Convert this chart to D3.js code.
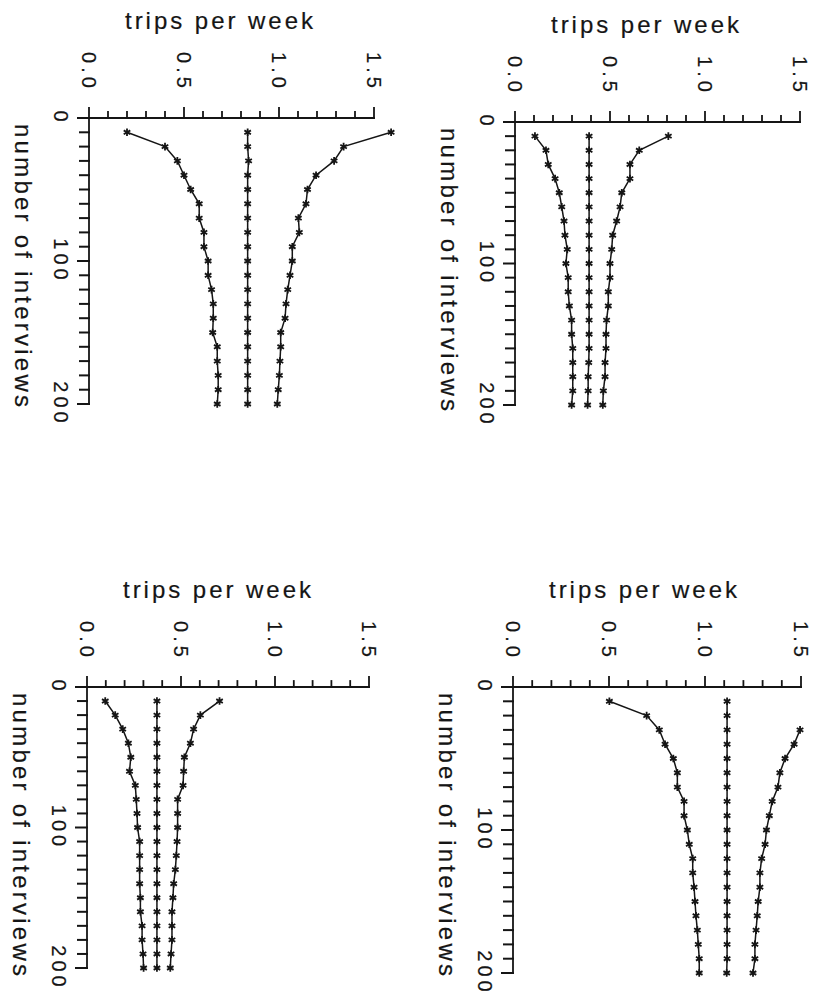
<!DOCTYPE html>
<html>
<head>
<meta charset="utf-8">
<title>trips per week</title>
<script src="https://d3js.org/d3.v7.min.js"></script>
<style>
  body { margin: 0; background: #fff; }
  svg text { font-family: "Liberation Sans", Arial, sans-serif; fill: #151515; stroke: #151515; stroke-width: 0.2; }
  .axis line { stroke: #151515; stroke-width: 1.8; stroke-linecap: square; }
  .axis line.yt { stroke-width: 2; }
  .tick-label { font-size: 20px; letter-spacing: 4px; }
  .title { font-size: 24px; }
  .series { fill: none; stroke: #151515; stroke-width: 1.5; }
  .mark { fill: none; stroke: #151515; stroke-width: 1.8; }
</style>
</head>
<body>
<svg width="823" height="1002"></svg>
<script>
// number of interviews at each plotted point
var interviews = [10, 20, 30, 40, 50, 60, 70, 80, 90, 100, 110, 120, 130, 140, 150, 160, 170, 180, 190, 200];
var tripTicks = [0, 0.5, 1.0, 1.5];
var interviewTicks = [0, 100, 200];

// top left
var tlLower = [0.20, 0.40, 0.465, 0.50, 0.535, 0.58, 0.58, 0.605, 0.605, 0.627, 0.627, 0.645, 0.654, 0.654, 0.651, 0.675, 0.675, 0.68, 0.68, 0.675];
var tlMid   = [0.835, 0.835, 0.84, 0.835, 0.835, 0.835, 0.835, 0.835, 0.835, 0.835, 0.835, 0.835, 0.835, 0.835, 0.835, 0.835, 0.835, 0.835, 0.835, 0.835];
var tlUpper = [1.59, 1.34, 1.29, 1.195, 1.15, 1.142, 1.102, 1.107, 1.07, 1.07, 1.058, 1.046, 1.037, 1.032, 1.009, 1.009, 1.005, 1.002, 0.996, 0.991];

// top right
var trLower = [0.105, 0.163, 0.175, 0.211, 0.233, 0.246, 0.258, 0.263, 0.275, 0.268, 0.28, 0.28, 0.286, 0.298, 0.298, 0.304, 0.304, 0.304, 0.304, 0.298];
var trMid   = [0.39, 0.39, 0.39, 0.39, 0.39, 0.39, 0.39, 0.39, 0.39, 0.39, 0.39, 0.39, 0.39, 0.39, 0.39, 0.39, 0.388, 0.385, 0.385, 0.382];
var trUpper = [0.807, 0.654, 0.605, 0.605, 0.562, 0.553, 0.535, 0.514, 0.509, 0.50, 0.50, 0.491, 0.491, 0.482, 0.479, 0.479, 0.474, 0.474, 0.465, 0.462];

// bottom left
var blLower = [0.097, 0.15, 0.19, 0.22, 0.233, 0.226, 0.257, 0.262, 0.266, 0.269, 0.28, 0.28, 0.28, 0.28, 0.284, 0.284, 0.293, 0.293, 0.298, 0.301];
var blMid   = [0.372, 0.372, 0.372, 0.372, 0.372, 0.372, 0.372, 0.372, 0.372, 0.372, 0.372, 0.372, 0.372, 0.372, 0.372, 0.372, 0.372, 0.372, 0.372, 0.372];
var blUpper = [0.705, 0.603, 0.567, 0.55, 0.518, 0.514, 0.511, 0.482, 0.482, 0.482, 0.479, 0.475, 0.47, 0.461, 0.457, 0.452, 0.452, 0.452, 0.447, 0.443];

// bottom right (first two upper values run off the scale)
var brLower = [0.502, 0.696, 0.762, 0.792, 0.835, 0.856, 0.856, 0.891, 0.891, 0.908, 0.918, 0.936, 0.936, 0.943, 0.948, 0.953, 0.96, 0.965, 0.97, 0.97];
var brMid   = [1.115, 1.115, 1.115, 1.115, 1.115, 1.115, 1.115, 1.115, 1.115, 1.115, 1.115, 1.115, 1.115, 1.115, 1.115, 1.115, 1.115, 1.115, 1.115, 1.113];
var brUpper = [null, null, 1.495, 1.464, 1.417, 1.39, 1.38, 1.35, 1.335, 1.32, 1.313, 1.295, 1.286, 1.286, 1.277, 1.272, 1.266, 1.26, 1.26, 1.25];

// where each scanned panel sits on the page
var panels = [
  { series: [tlLower, tlMid, tlUpper], left: 89,  right: 374, top: 118, bottom: 404 },
  { series: [trLower, trMid, trUpper], left: 515, right: 800, top: 122, bottom: 405 },
  { series: [blLower, blMid, blUpper], left: 87,  right: 369, top: 687, bottom: 968 },
  { series: [brLower, brMid, brUpper], left: 513, right: 801, top: 687, bottom: 973 }
];

var svg = d3.select("svg");
var fmt = d3.format(".1f");
var marker = d3.symbol().type(d3.symbolAsterisk || d3.symbolCross).size(40);

panels.forEach(function(p) {
  var x = d3.scaleLinear().domain([0, 1.5]).range([p.left, p.right]);
  var y = d3.scaleLinear().domain([0, 200]).range([p.top, p.bottom]);

  var g = svg.append("g");
  var ax = g.append("g").attr("class", "axis");

  // axis lines
  ax.append("line")
      .attr("x1", x(0)).attr("x2", x(1.5))
      .attr("y1", y(0)).attr("y2", y(0));
  ax.append("line")
      .attr("x1", x(0)).attr("x2", x(0))
      .attr("y1", y(0)).attr("y2", y(200));

  // trips per week ticks: every 0.1, longer every 0.5
  ax.selectAll(null)
      .data(x.ticks(15))
    .enter().append("line")
      .attr("x1", function(d) { return x(d); })
      .attr("x2", function(d) { return x(d); })
      .attr("y1", y(0))
      .attr("y2", function(d) { return y(0) - (Math.abs(d * 2 - Math.round(d * 2)) < 1e-6 ? 10 : 6); });

  // interview ticks every 10
  ax.selectAll(null)
      .data(y.ticks(20))
    .enter().append("line")
      .attr("class", "yt")
      .attr("x1", x(0))
      .attr("x2", function(d) { return x(0) - (d % 100 === 0 ? 11 : 9); })
      .attr("y1", function(d) { return y(d); })
      .attr("y2", function(d) { return y(d); });

  // rotated tick labels
  g.selectAll(null)
      .data(tripTicks)
    .enter().append("text")
      .attr("class", "tick-label")
      .attr("text-anchor", "middle")
      .attr("dominant-baseline", "central")
      .attr("transform", function(d) { return "translate(" + x(d) + "," + (y(0) - 46) + ") rotate(90)"; })
      .text(function(d) { return fmt(d); });

  g.selectAll(null)
      .data(interviewTicks)
    .enter().append("text")
      .attr("class", "tick-label")
      .attr("text-anchor", "middle")
      .attr("dominant-baseline", "central")
      .attr("transform", function(d) { return "translate(" + (x(0) - 28) + "," + y(d) + ") rotate(90)"; })
      .text(function(d) { return d; });

  // axis titles
  g.append("text")
      .attr("class", "title")
      .attr("x", x(0) + 36)
      .attr("y", y(0) - 89)
      .attr("textLength", 188)
      .attr("lengthAdjust", "spacing")
      .text("trips per week");

  g.append("text")
      .attr("class", "title")
      .attr("dominant-baseline", "central")
      .attr("transform", "translate(" + (x(0) - 66) + "," + (y(0) + 6) + ") rotate(90)")
      .attr("textLength", 283)
      .attr("lengthAdjust", "spacing")
      .text("number of interviews");

  // the three curves
  var line = d3.line()
      .defined(function(d) { return d.v != null; })
      .x(function(d) { return x(d.v); })
      .y(function(d) { return y(d.n); });

  p.series.forEach(function(vals) {
    var pts = interviews.map(function(n, i) { return { n: n, v: vals[i] }; });

    g.append("path")
        .datum(pts)
        .attr("class", "series")
        .attr("d", line);

    g.selectAll(null)
        .data(pts.filter(function(d) { return d.v != null; }))
      .enter().append("path")
        .attr("class", "mark")
        .attr("transform", function(d) { return "translate(" + x(d.v) + "," + y(d.n) + ")"; })
        .attr("d", marker);
  });
});
</script>
</body>
</html>
